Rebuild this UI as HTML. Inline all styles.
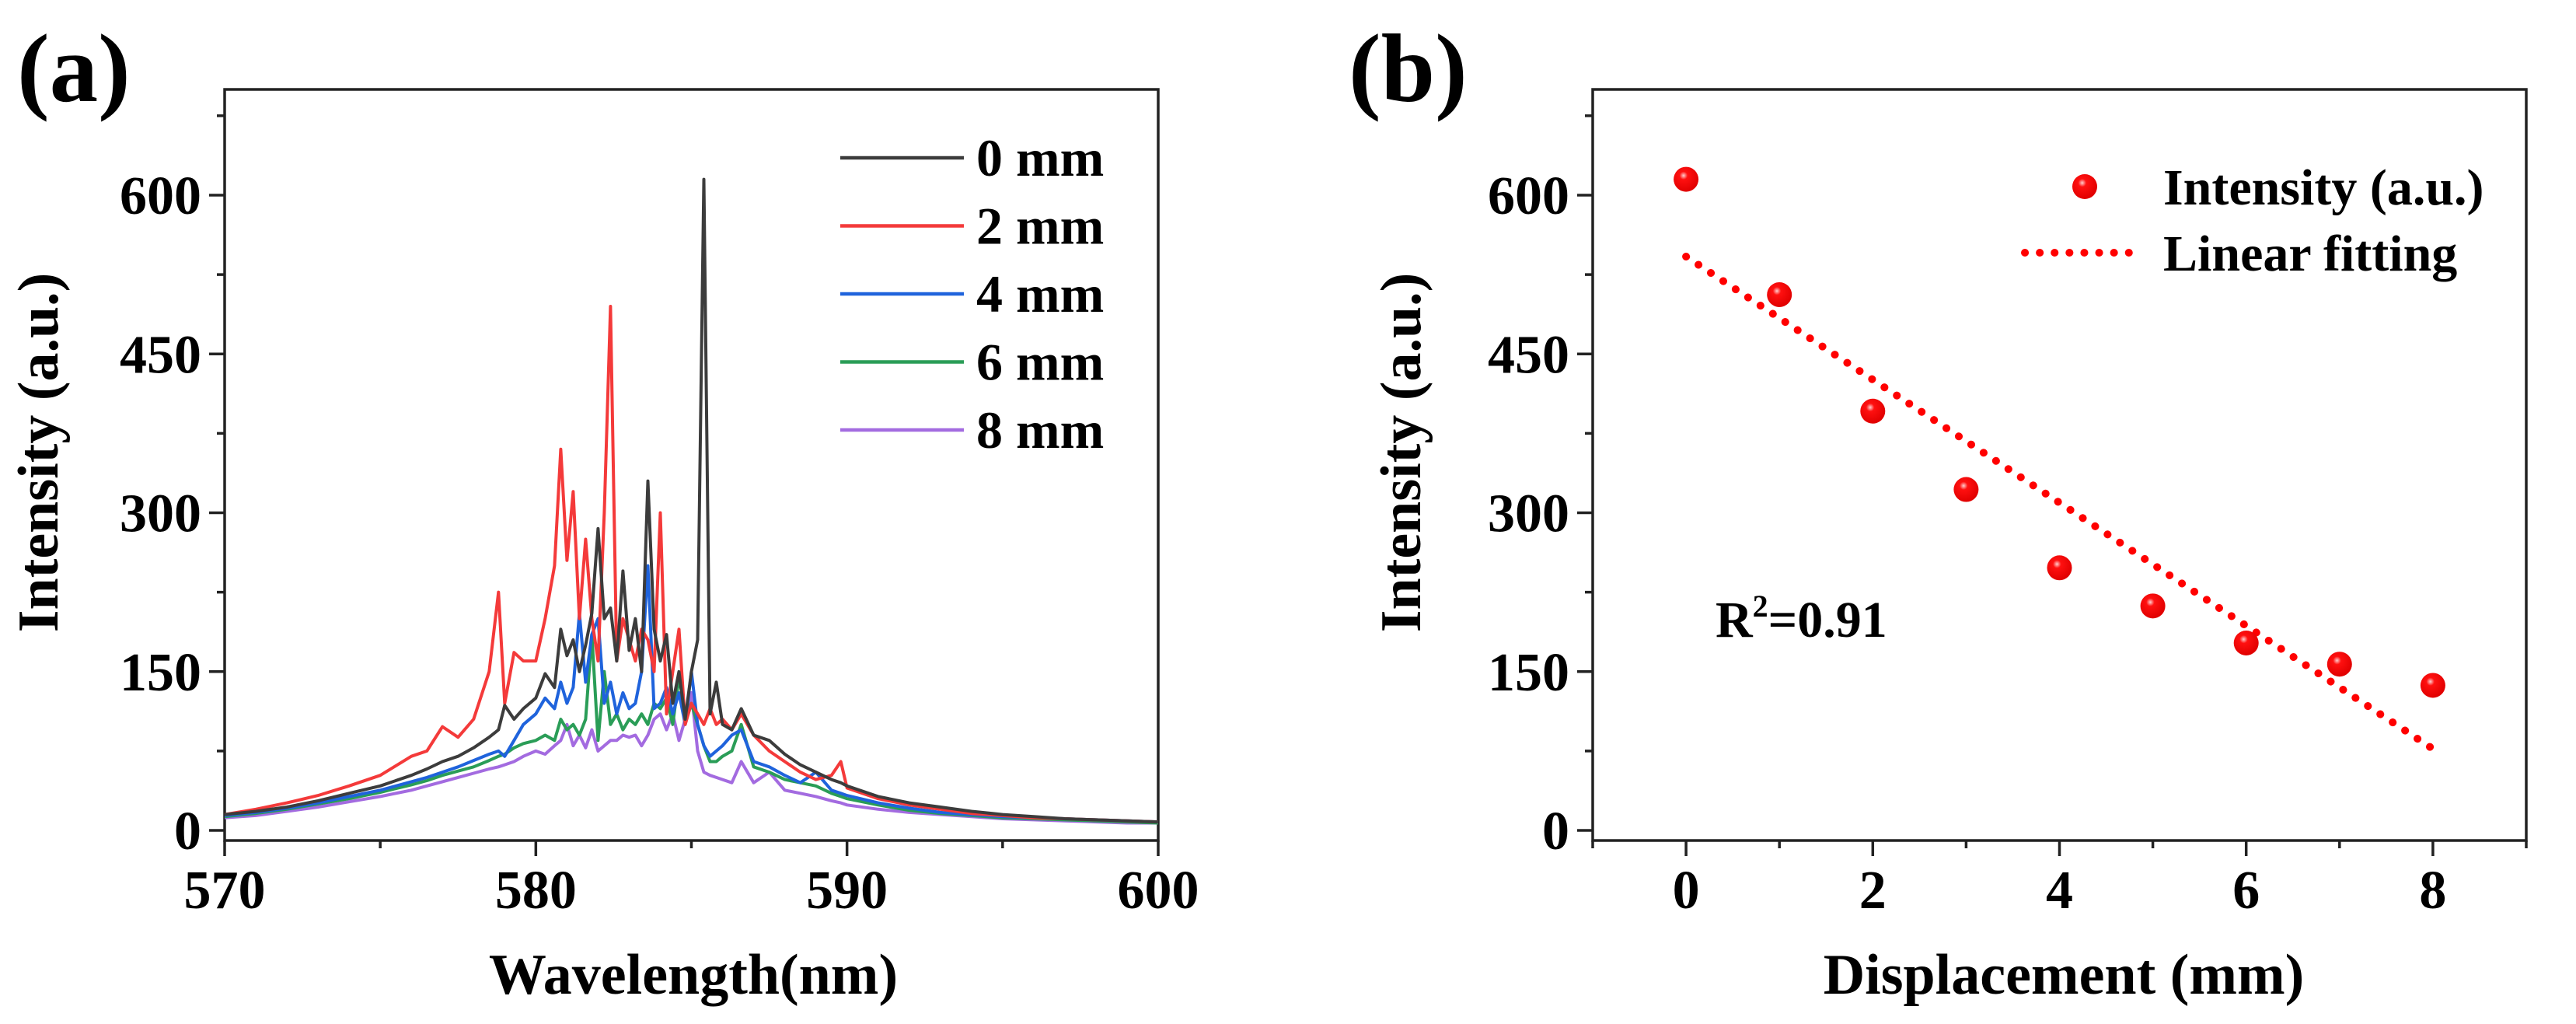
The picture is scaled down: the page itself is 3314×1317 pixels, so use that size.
<!DOCTYPE html>
<html><head><meta charset="utf-8"><style>
html,body{margin:0;padding:0;background:#fff}
svg{display:block}
text{font-family:"Liberation Serif",serif;font-weight:bold;fill:#000}
</style></head><body>
<svg id="fig" width="3314" height="1317" viewBox="0 0 3314 1317" xmlns="http://www.w3.org/2000/svg">
<text x="22" y="130" font-size="125">(a)</text>
<text x="1735" y="130" font-size="125">(b)</text>
<g id="pa"></g>
<g id="pb"></g>
</svg>
<script>
const wavelengths=[570,571,572,573,574,575,576,576.5,577,577.5,578,578.5,578.8,579,579.3,579.6,580,580.3,580.6,580.8,581,581.2,581.4,581.6,581.8,582,582.2,582.4,582.6,582.8,583,583.2,583.4,583.6,583.8,584,584.2,584.4,584.6,584.8,585,585.2,585.4,585.6,585.8,586,586.3,586.6,587,587.5,588,588.5,589,589.5,589.8,590,591,592,593,594,595,596,597,598,599,600];
const s0mm=[15,18,22,28,35,42,52,58,65,70,78,88,95,118,105,115,125,148,135,190,165,180,150,175,205,285,200,210,160,245,170,200,150,330,190,160,185,120,150,105,150,180,615,110,140,100,95,115,90,85,72,62,55,48,45,42,32,26,22,18,15,13,11,10,9,8];
const s2mm=[15,20,26,33,42,52,70,75,98,88,105,150,225,120,168,160,160,200,250,360,255,320,200,275,200,160,300,495,160,200,180,160,190,180,150,300,110,150,190,100,120,110,100,115,100,105,95,110,90,75,65,55,48,52,65,40,30,24,20,16,14,12,11,10,9,8];
const s4mm=[14,17,21,26,32,38,46,50,55,60,66,72,75,70,85,100,110,125,115,140,120,135,205,140,185,200,120,140,110,130,115,120,150,250,115,120,135,110,130,100,150,100,80,70,75,80,90,95,65,60,52,45,55,38,35,33,26,21,17,15,13,12,11,10,9,8];
const s6mm=[13,16,20,25,30,36,43,47,52,56,60,66,70,72,78,82,85,90,85,105,95,100,90,105,185,85,150,100,110,95,105,100,110,100,120,115,125,100,145,110,120,100,80,65,65,70,75,100,60,55,48,45,42,35,32,30,24,19,16,14,12,11,10,9,8,7];
const s8mm=[12,14,18,22,27,32,38,42,46,50,54,58,60,62,65,70,75,72,80,85,100,80,90,78,95,75,80,85,85,90,88,90,80,90,105,110,95,110,85,105,130,75,55,52,50,48,45,65,45,55,38,35,32,28,26,24,20,17,15,13,11,10,9,8,7,7];
const seriesNames=["0 mm","2 mm","4 mm","6 mm","8 mm"];
const yTicks=[0,150,300,450,600];
const xTicksA=[570,580,590,600];
const displacement=[0,1,2,3,4,5,6,7,8];
const intensity=[615,506,396,322,248,212,177,157,137];
const fitStart=[0,542];
const fitEnd=[8,77];
const xTicksB=[0,2,4,6,8];

const NS="http://www.w3.org/2000/svg";
function mk(tag,attrs,parent){const e=document.createElementNS(NS,tag);for(const k in attrs)e.setAttribute(k,attrs[k]);parent.appendChild(e);return e;}
const colors=["#3c3c3c","#f43a3a","#1f63dc","#2a9d57","#a36be0"];
const plotTop=115,plotBot=1081;
function ys(v){return 1068-v*(1068-251)/600;}
const defs=mk('defs',{},document.getElementById('fig'));
const rg=mk('radialGradient',{id:'ball',cx:'0.4',cy:'0.35',r:'0.65'},defs);
mk('stop',{offset:'0','stop-color':'#ffd0d0'},rg);mk('stop',{offset:'0.25','stop-color':'#ff1010'},rg);mk('stop',{offset:'1','stop-color':'#e00000'},rg);

function axes(g,L,R,xs,xMaj,xMin,yTitle,xTitle,xTitleX,yTitleX){
  mk('rect',{x:L,y:plotTop,width:R-L,height:plotBot-plotTop,fill:'none',stroke:'#222','stroke-width':3.5},g);
  for(let v=0;v<=675;v+=75){const y=ys(v);const maj=v%150===0;
    const t=mk('line',{x1:L,x2:L-(maj?20:10),y1:y,y2:y,stroke:'#222','stroke-width':3.5},g);
    
    }
  yTicks.forEach(v=>{const t=mk('text',{x:L-30,y:ys(v)+24,'font-size':70,'text-anchor':'end'},g);t.textContent=v;
    
    });
  xMin.forEach(v=>{mk('line',{x1:xs(v),x2:xs(v),y1:plotBot,y2:plotBot+10,stroke:'#222','stroke-width':3.5},g);});
  xMaj.forEach(v=>{mk('line',{x1:xs(v),x2:xs(v),y1:plotBot,y2:plotBot+20,stroke:'#222','stroke-width':3.5},g);
    const t=mk('text',{x:xs(v),y:1168,'font-size':70,'text-anchor':'middle'},g);t.textContent=v;
    
    });
  const xt=mk('text',{x:xTitleX,y:1278,'font-size':74,'text-anchor':'middle'},g);xt.textContent=xTitle;
  
  
  const yt=mk('text',{x:0,y:0,'font-size':74,'text-anchor':'middle',transform:`translate(${yTitleX},582) rotate(-90)`},g);yt.textContent=yTitle;
  
  
}
(function(){
  const g=document.getElementById('pa');const L=289,R=1490;
  const xs=w=>L+(w-570)*(R-L)/30;
  axes(g,L,R,xs,xTicksA,[575,585,595],"Intensity (a.u.)","Wavelength(nm)",892,74);
  const all=[s0mm,s2mm,s4mm,s6mm,s8mm];
  for(let k=all.length-1;k>=0;k--){
    const d=wavelengths.map((w,i)=>(i?'L':'M')+xs(w).toFixed(1)+','+ys(all[k][i]).toFixed(1)).join('');
    const p=mk('path',{d:d,fill:'none',stroke:colors[k],'stroke-width':4,'stroke-linejoin':'round'},g);
    
    
  }
  seriesNames.forEach((n,k)=>{const y=203+k*87.5;
    mk('line',{x1:1081,x2:1240,y1:y,y2:y,stroke:colors[k],'stroke-width':4.5},g);
    const t=mk('text',{x:1256,y:y+23,'font-size':68},g);t.textContent=n;
    
    });
})();
(function(){
  const g=document.getElementById('pb');const L=2049,R=3250;
  const xs=x=>L+(x+1)*(R-L)/10;
  axes(g,L,R,xs,xTicksB,[-1,1,3,5,7,9],"Intensity (a.u.)","Displacement (mm)",2655,1827);
  const fit=mk('line',{x1:xs(fitStart[0]),y1:ys(fitStart[1]),x2:xs(fitEnd[0]),y2:ys(fitEnd[1]),stroke:'#ff0000','stroke-width':10,'stroke-linecap':'round','stroke-dasharray':'0.1 19'},g);
  
  
  displacement.forEach((x,i)=>{const c=mk('circle',{cx:xs(x),cy:ys(intensity[i]),r:16,fill:'url(#ball)'},g);
    
    });
  const lm=mk('circle',{cx:2682,cy:240,r:16,fill:'url(#ball)'},g);
  
  
  const t1=mk('text',{x:2783,y:263,'font-size':66},g);t1.textContent="Intensity (a.u.)";
  
  
  mk('line',{x1:2605,x2:2756,y1:325,y2:325,stroke:'#ff0000','stroke-width':10,'stroke-linecap':'round','stroke-dasharray':'0.1 19'},g);
  const t2=mk('text',{x:2783,y:348,'font-size':66},g);t2.textContent="Linear fitting";
  
  
  const r=mk('text',{x:2207,y:819,'font-size':66},g);r.innerHTML='R<tspan dy="-26" font-size="40">2</tspan><tspan dy="26">=0.91</tspan>';
  
  
})();
</script>
</body></html>
